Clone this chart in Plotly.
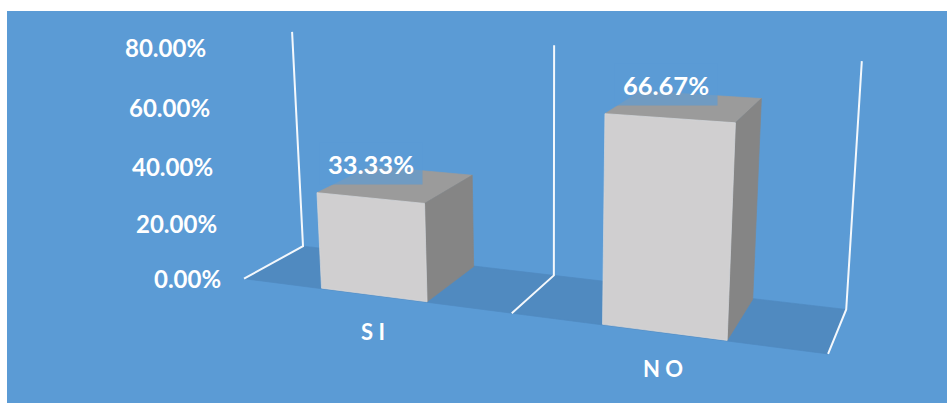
import numpy as np
import plotly.graph_objects as go

# Chart data
categories = ["S I", "N O"]
values = [0.3333, 0.6667]
value_labels = ["33.33%", "66.67%"]
tick_values = [0.0, 0.2, 0.4, 0.6, 0.8]
tick_labels = ["0.00%", "20.00%", "40.00%", "60.00%", "80.00%"]

# Perspective camera of the 3-D column chart (rotation vector, translation, focal length)
ROT = np.array([-1.2927, -0.2442, -0.3086])
TRANS = np.array([0.021, 0.0248, -2.1279])
DEPTH_SCALE, HEIGHT_SCALE = 0.2016, 0.4035
CX, CY, FOCAL = 520.4986, 191.9975, 1301.1
Z_MAX = 0.8
BAR_CENTER, BAR_HALF_WIDTH, BAR_FRONT, BAR_BACK = 0.501, 0.1975, 0.0114, 0.9857

BLUE, FLOOR = "#5b9bd5", "#508ac0"
FRONT, TOP, SIDE = "#d0cfd0", "#9b9b9b", "#858585"
FONT = "Lato"


def rotation(r):
    th = np.sqrt(r @ r)
    k = r / th
    K = np.array([[0, -k[2], k[1]], [k[2], 0, -k[0]], [-k[1], k[0], 0]])
    return np.eye(3) + np.sin(th) * K + (1 - np.cos(th)) * K @ K


R = rotation(ROT)


def project(cat, depth, value):
    """Category position, depth (0 front, 1 back) and value to plot coordinates."""
    m = np.array([cat / 2 - 0.5, DEPTH_SCALE * (depth - 0.5), HEIGHT_SCALE * (value / Z_MAX - 0.5)])
    c = R @ m + TRANS
    return CX + FOCAL * c[0] / -c[2], CY - FOCAL * c[1] / -c[2]


def face(corners, color, name, line=None):
    pts = [project(*p) for p in corners]
    return go.Scatter(
        x=[p[0] for p in pts], y=[p[1] for p in pts], mode="lines", fill="toself",
        fillcolor=color, line=dict(color=line or color, width=0.7), name=name,
        hoverinfo="skip", showlegend=False,
    )


fig = go.Figure()

# Floor band
n = len(categories)
fig.add_trace(face([(0, 0, 0), (n, 0, 0), (n, 1, 0), (0, 1, 0), (0, 0, 0)], FLOOR, "floor"))

# Wall frame: one polyline per category boundary
for i in range(n + 1):
    pts = [project(i, 0, 0), project(i, 1, 0), project(i, 1, Z_MAX)]
    fig.add_trace(go.Scatter(
        x=[p[0] for p in pts], y=[p[1] for p in pts], mode="lines",
        line=dict(color="#f4f8fc", width=2), hoverinfo="skip", showlegend=False,
    ))

# Columns
for i, (cat, v) in enumerate(zip(categories, values)):
    l, r = i + BAR_CENTER - BAR_HALF_WIDTH, i + BAR_CENTER + BAR_HALF_WIDTH
    f, b = BAR_FRONT, BAR_BACK
    fig.add_trace(face([(l, f, v), (r, f, v), (r, b, v), (l, b, v), (l, f, v)], TOP, cat + " top"))
    fig.add_trace(face([(r, f, 0), (r, b, 0), (r, b, v), (r, f, v), (r, f, 0)], SIDE, cat + " side"))
    fig.add_trace(face([(l, f, 0), (r, f, 0), (r, f, v), (l, f, v), (l, f, 0)], FRONT, cat + " front", "#d9d9da"))

annotations = []
# Value-axis labels along the front-left edge
for v, t in zip(tick_values, tick_labels):
    x, y = project(0, 0, v)
    annotations.append(dict(x=x, y=y, text=f"<b>{t}</b>", xanchor="right", yanchor="middle",
                            xshift=-21.5, showarrow=False,
                            font=dict(family=FONT, size=24, color="white")))
# Category labels below the floor
for i, cat in enumerate(categories):
    x, y = project(i + 0.5, 0, 0)
    annotations.append(dict(x=x, y=y, text=f"<b>{cat}</b>", xanchor="center", yanchor="middle",
                            yshift=-36, showarrow=False,
                            font=dict(family=FONT, size=22, color="white")))
# Data labels above each column's top face
for i, (v, t) in enumerate(zip(values, value_labels)):
    x, y = project(i + 0.5, 0.2, v)
    annotations.append(dict(x=x, y=y, text=f"<b>{t}</b>", xanchor="center", yanchor="middle",
                            xshift=-9, yshift=28.5, width=100, height=39, showarrow=False,
                            bgcolor="rgba(91,155,213,0.67)", align="center", valign="middle",
                            font=dict(family=FONT, size=25.5, color="white")))

fig.update_layout(
    width=947, height=403, margin=dict(l=0, r=0, t=0, b=0),
    paper_bgcolor="white", plot_bgcolor="white", showlegend=False,
    xaxis=dict(range=[0, 947], visible=False, fixedrange=True),
    yaxis=dict(range=[403, 0], visible=False, fixedrange=True),
    annotations=annotations,
    shapes=[dict(type="rect", xref="x", yref="y", x0=7, x1=947, y0=11, y1=403,
                 fillcolor=BLUE, line_width=0, layer="below")],
)

fig.write_html("out.html")
